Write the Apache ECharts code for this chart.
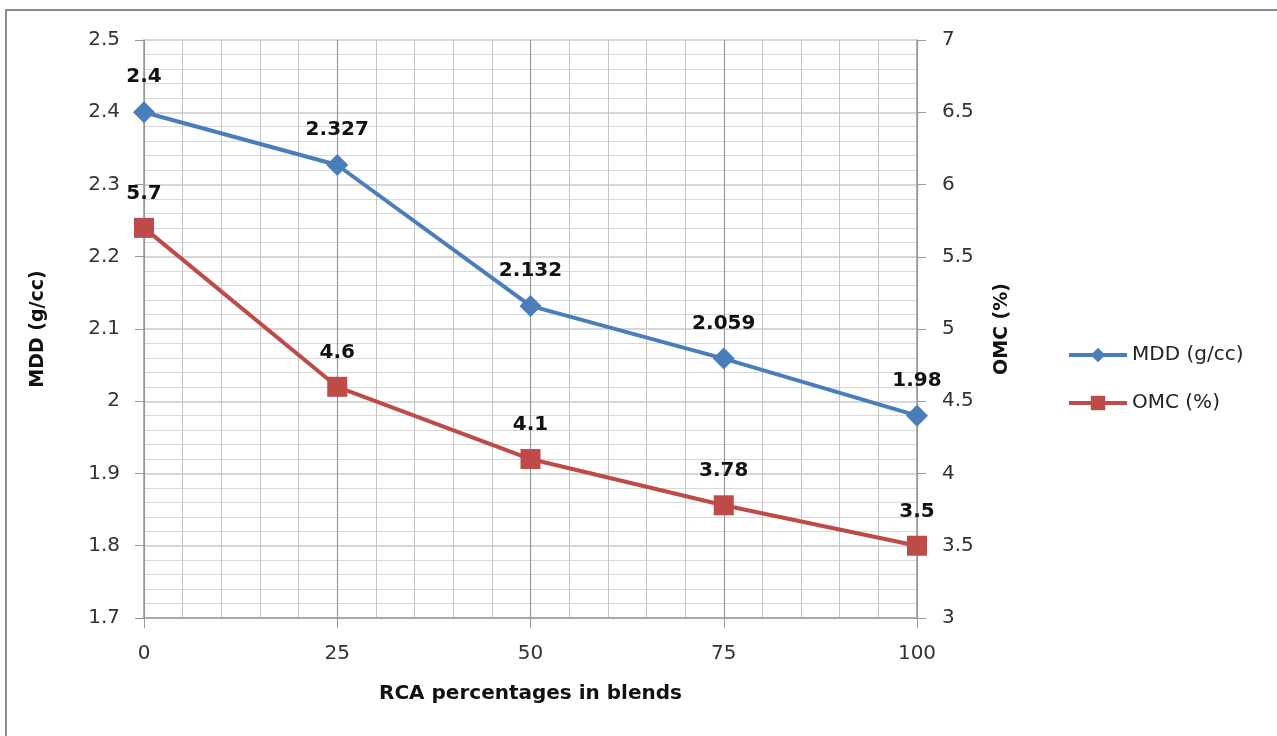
<!DOCTYPE html>
<html>
<head>
<meta charset="utf-8">
<script src="https://cdn.jsdelivr.net/npm/echarts@6/dist/echarts.min.js"></script>
<style>
  html, body { margin: 0; padding: 0; background: #fff; }
  #frame { position: absolute; left: 5px; top: 9px; width: 1290px; height: 760px; border: 2px solid #8a8a8a; box-sizing: border-box; }
  #chart { position: absolute; left: 0; top: 0; width: 1277px; height: 736px; }
</style>
</head>
<body>
<div id="frame"></div>
<div id="chart"></div>
<script>
// RCA share in the blend (%)
const rca = [0, 25, 50, 75, 100];
const mdd = [2.4, 2.327, 2.132, 2.059, 1.98];
const omc = [5.7, 4.6, 4.1, 3.78, 3.5];

const font = '"DejaVu Sans", "Open Sans", sans-serif';
const pairs = (ys) => rca.map((x, i) => [x, ys[i]]);

var myChart = echarts.init(document.getElementById('chart'));
myChart.setOption({
  animation: false,
  textStyle: { fontFamily: font },
  grid: { left: 144, right: 360, top: 40, bottom: 118 },
  legend: {
    orient: 'vertical',
    left: 1062,
    top: 340,
    itemWidth: 58,
    itemHeight: 18,
    itemGap: 28,
    lineStyle: { width: 4 },
    textStyle: { fontSize: 20, color: '#222', fontFamily: font },
    data: ['MDD (g/cc)', 'OMC (%)']
  },
  xAxis: {
    type: 'value',
    min: 0, max: 100, interval: 25,
    name: 'RCA percentages in blends',
    nameLocation: 'middle',
    nameGap: 66,
    nameTextStyle: { fontSize: 20, fontWeight: 'bold', color: '#111', fontFamily: font },
    axisLine: { show: true, lineStyle: { color: '#999', width: 1.5 } },
    axisTick: { show: true, length: 10, lineStyle: { color: '#999' } },
    axisLabel: { fontSize: 20, color: '#333', margin: 26 },
    splitLine: { show: true, lineStyle: { color: '#999', width: 1.2 } },
    minorTick: { show: false, splitNumber: 5 },
    minorSplitLine: { show: true, lineStyle: { color: '#c4c4c4', width: 1 } }
  },
  yAxis: [
    {
      type: 'value',
      min: 1.7, max: 2.5, interval: 0.1,
      name: 'MDD (g/cc)',
      nameLocation: 'middle',
      nameGap: 96,
      nameRotate: 90,
      nameTextStyle: { fontSize: 19, fontWeight: 'bold', color: '#111', fontFamily: font },
      axisLine: { show: true, lineStyle: { color: '#999', width: 1.5 } },
      axisTick: { show: true, length: 9, lineStyle: { color: '#999' } },
      axisLabel: { fontSize: 20, color: '#333', margin: 24 },
      splitLine: { show: true, lineStyle: { color: '#cacaca', width: 1.5 } },
      minorTick: { show: false, splitNumber: 5 },
      minorSplitLine: { show: true, lineStyle: { color: '#d9d9d9', width: 1.2 } }
    },
    {
      type: 'value',
      min: 3, max: 7, interval: 0.5,
      name: 'OMC (%)',
      nameLocation: 'middle',
      nameGap: 76,
      nameRotate: 90,
      nameTextStyle: { fontSize: 19, fontWeight: 'bold', color: '#111', fontFamily: font },
      axisLine: { show: true, lineStyle: { color: '#999', width: 1.5 } },
      axisTick: { show: true, length: 9, lineStyle: { color: '#999' } },
      axisLabel: { fontSize: 20, color: '#333', margin: 25 },
      splitLine: { show: false }
    }
  ],
  series: [
    {
      name: 'MDD (g/cc)',
      type: 'line',
      yAxisIndex: 0,
      data: pairs(mdd),
      symbol: 'diamond',
      symbolSize: 22,
      lineStyle: { color: '#4a7ebb', width: 4 },
      itemStyle: { color: '#4a7ebb' },
      label: {
        show: true, position: 'top', distance: 14,
        fontSize: 20, fontWeight: 'bold', color: '#111', fontFamily: font
      },
      z: 3
    },
    {
      name: 'OMC (%)',
      type: 'line',
      yAxisIndex: 1,
      data: pairs(omc),
      symbol: 'rect',
      symbolSize: 20,
      lineStyle: { color: '#be4b48', width: 4 },
      itemStyle: { color: '#be4b48' },
      label: {
        show: true, position: 'top', distance: 14,
        fontSize: 20, fontWeight: 'bold', color: '#111', fontFamily: font
      },
      z: 2
    }
  ]
});
</script>
</body>
</html>
